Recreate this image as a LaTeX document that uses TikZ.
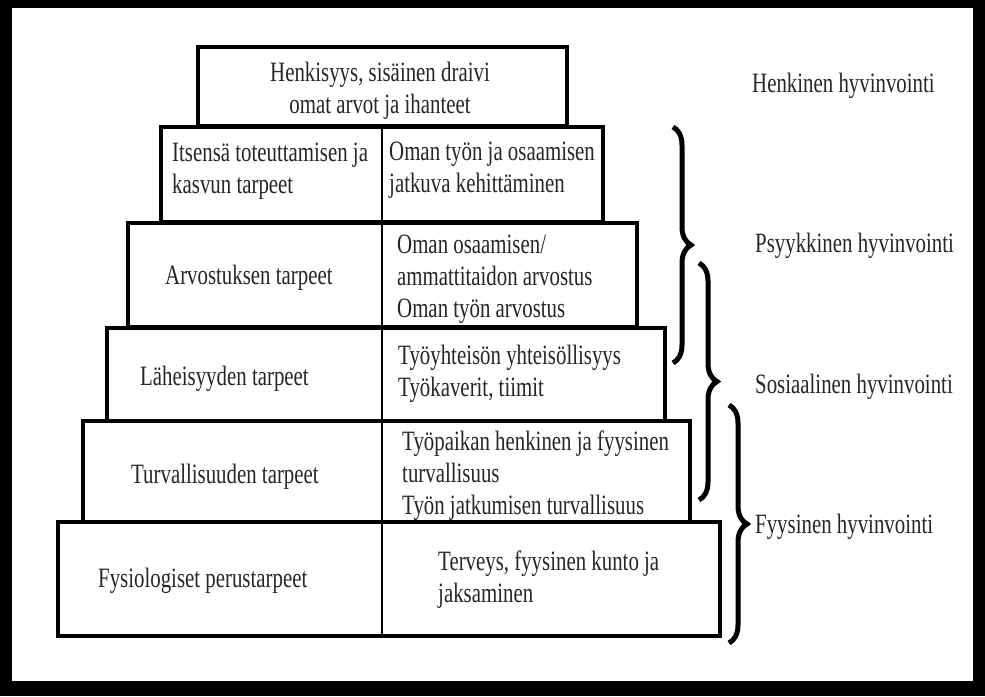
\documentclass[tikz,border=0pt]{standalone}
\usepackage{fontspec}
\setmainfont{Liberation Serif}[FakeStretch=0.745]
\usetikzlibrary{decorations.pathreplacing}
\usetikzlibrary{positioning}

\tikzset{
  tier/.style={draw, line width=3.5pt},
  need/.style={inner sep=0pt, align=left, text=black!85,
    font=\fontsize{28}{32}\selectfont},
  brc/.style={decorate, decoration={brace, amplitude=18pt}, line width=5pt},
}

\begin{document}
\begin{tikzpicture}[x=1pt, y=-1pt]
  \fill[black] (0,0) rectangle (985,696);
  \fill[white] (12,8) rectangle (973,681);
  \useasboundingbox (0,0) rectangle (985,696);

  \foreach \l/\t/\r/\b in {198/47/567/126, 161/127/603/222, 128/223/637/327,
                           107/328/665/421, 83/421/690/522, 58/522/720/636}
    \draw[tier] (\l,\t) rectangle (\r,\b);
  \draw[line width=2.5pt] (382,127) -- (382,636);

  \node[need, align=center] (top) at (380,91)
    {Henkisyys, sisäinen draivi\\ omat arvot ja ihanteet};

  \node[need, anchor=west] (itse) at (172,171) {Itsensä toteuttamisen ja\\kasvun tarpeet};
  \node[need, anchor=west] (itseR) at (389,170) {Oman työn ja osaamisen\\jatkuva kehittäminen};
  \node[need, anchor=west] (arvo) at (165,278) {Arvostuksen tarpeet};
  \node[need, anchor=west] (arvoR) at (397,279) {Oman osaamisen/\\ammattitaidon arvostus\\Oman työn arvostus};
  \node[need, anchor=west] (lahe) at (140,379) {Läheisyyden tarpeet};
  \node[need, anchor=west] (laheR) at (398,374) {Työyhteisön yhteisöllisyys\\Työkaverit, tiimit};
  \node[need, anchor=west] (turva) at (131,477) {Turvallisuuden tarpeet};
  \node[need, anchor=west] (turvaR) at (402,476) {Työpaikan henkinen ja fyysinen\\turvallisuus\\Työn jatkumisen turvallisuus};
  \node[need, anchor=west] (fysio) at (98,581) {Fysiologiset perustarpeet};
  \node[need, anchor=west] (fysioR) at (438,580) {Terveys, fyysinen kunto ja\\jaksaminen};

  \coordinate (b1t) at (673,127);
  \coordinate (b1b) at (673,363);
  \coordinate (b2t) at (699,263);
  \coordinate (b2b) at (699,500);
  \coordinate (b3t) at (729,405);
  \coordinate (b3b) at (729,643);
  \draw[brc] (b1t) -- (b1b);
  \draw[brc] (b2t) -- (b2b);
  \draw[brc] (b3t) -- (b3b);

  \node[need, anchor=base west] (henk) at (752,92) {Henkinen hyvinvointi};
  \node[need, anchor=base west] (psyk) at (755,252) {Psyykkinen hyvinvointi};
  \node[need, anchor=base west] (sos) at (755,393) {Sosiaalinen hyvinvointi};
  \node[need, anchor=base west] (fyys) at (755,533) {Fyysinen hyvinvointi};
\end{tikzpicture}
\end{document}
